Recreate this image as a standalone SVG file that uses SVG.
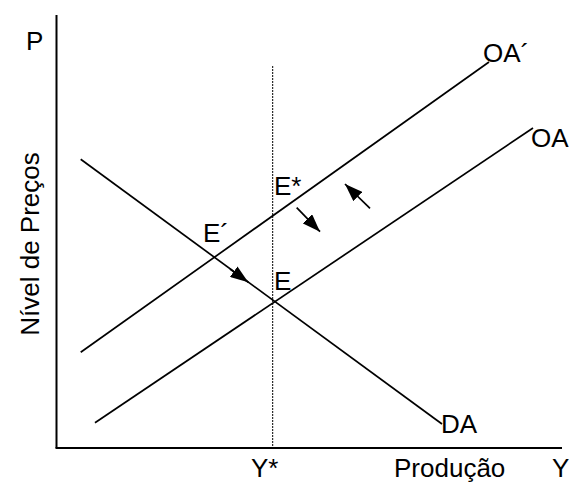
<svg xmlns="http://www.w3.org/2000/svg" width="574" height="483" viewBox="0 0 574 483">
<style>
text{font-family:"Liberation Sans",Arial,sans-serif;font-size:26px;fill:#000}
.ln{stroke:#000;stroke-width:1.7;fill:none}
.ax{stroke:#000;stroke-width:2;fill:none}
.dot{stroke:#000;stroke-width:1;stroke-dasharray:2 1;fill:none}
</style>
<defs>
<marker id="ah" viewBox="0 0 18 13" refX="18" refY="6.5" markerWidth="18" markerHeight="13" markerUnits="userSpaceOnUse" orient="auto">
<path d="M0,0 L18,6.5 L0,13 z" fill="#000"/>
</marker>
</defs>
<g id="axes">
<line class="ax" x1="56.5" y1="15" x2="56.5" y2="448"/>
<line class="ax" x1="55.5" y1="448" x2="562" y2="448"/>
<text x="26" y="50">P</text>
<text transform="translate(39,244) rotate(-90)" text-anchor="middle">Nível de Preços</text>
<text x="394" y="477">Produção</text>
<text x="552" y="477">Y</text>
</g>
<g id="ystar">
<line class="dot" x1="272.7" y1="66" x2="272.7" y2="447"/>
<text x="251" y="477">Y*</text>
</g>
<g id="OAprime">
<line class="ln" x1="80.7" y1="352.3" x2="489" y2="62"/>
<text x="483" y="62">OA´</text>
</g>
<g id="OA">
<line class="ln" x1="95" y1="422.7" x2="533" y2="128"/>
<text x="531" y="147">OA</text>
</g>
<g id="DA">
<line class="ln" x1="80.7" y1="159.3" x2="442" y2="424"/>
<text x="441" y="433">DA</text>
</g>
<g id="Estar"><text x="274" y="195">E*</text></g>
<g id="Eprime"><text x="203" y="242">E´</text></g>
<g id="E"><text x="274" y="290">E</text></g>
<g id="connectors">
<line class="ln" x1="230" y1="269" x2="248.3" y2="282.2" marker-end="url(#ah)"/>
<line class="ln" x1="296.7" y1="207.7" x2="320" y2="231.7" marker-end="url(#ah)"/>
<line class="ln" x1="370" y1="208.3" x2="345" y2="184" marker-end="url(#ah)"/>
</g>
</svg>
